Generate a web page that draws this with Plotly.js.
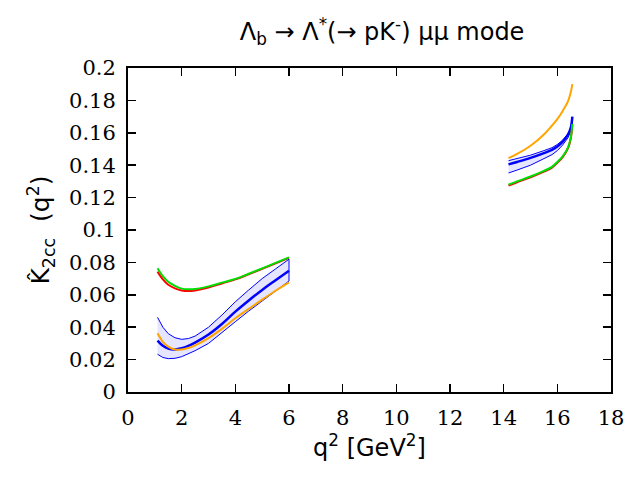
<!DOCTYPE html>
<html>
<head>
<meta charset="utf-8">
<script src="https://cdn.plot.ly/plotly-3.0.1.min.js"></script>
<style>
  body { margin: 0; background: #fff; }
  #plot { width: 640px; height: 480px; }
</style>
</head>
<body>
<div id="plot"></div>
<script>
// low q^2 bin
var qLow = [1.1, 1.3, 1.5, 1.75, 2.0, 2.25, 2.5, 3.0, 3.5, 4.0, 4.5, 5.0, 5.5, 6.0];
var greenLow = [0.0764, 0.0715, 0.0680, 0.0655, 0.0638, 0.0634, 0.0636, 0.0652, 0.0675, 0.0698, 0.0730, 0.0763, 0.0797, 0.0831];
var redLow = [0.0743, 0.0695, 0.0662, 0.0640, 0.0627, 0.0623, 0.0627, 0.0645, 0.0670, 0.0695, 0.0727, 0.0760, 0.0794, 0.0828];
var orangeLow = [0.0362, 0.0310, 0.0280, 0.0262, 0.0262, 0.0272, 0.0288, 0.0333, 0.0390, 0.0455, 0.0513, 0.0570, 0.0625, 0.0677];
var blueLow = [0.0317, 0.0285, 0.0268, 0.0263, 0.0270, 0.0285, 0.0305, 0.0355, 0.0420, 0.0496, 0.0565, 0.0630, 0.0690, 0.0749];
var blueUpLow = [0.0461, 0.0400, 0.0360, 0.0335, 0.0325, 0.0330, 0.0345, 0.0400, 0.0475, 0.0557, 0.0630, 0.0700, 0.0760, 0.0820];
var blueDnLow = [0.0233, 0.0213, 0.0206, 0.0208, 0.0218, 0.0235, 0.0255, 0.0300, 0.0365, 0.0434, 0.0500, 0.0565, 0.0625, 0.0685];

// high q^2 bin
var qHigh = [14.18, 14.5, 15.0, 15.5, 15.8, 16.0, 16.2, 16.4, 16.5, 16.56];
var orangeHigh = [0.1444, 0.1470, 0.1520, 0.1590, 0.1645, 0.1685, 0.1735, 0.1795, 0.1850, 0.1900];
var greenHigh = [0.1280, 0.1300, 0.1330, 0.1365, 0.1390, 0.1420, 0.1455, 0.1510, 0.1570, 0.1655];
var redHigh = [0.1275, 0.1295, 0.1325, 0.1360, 0.1385, 0.1415, 0.1450, 0.1505, 0.1565, 0.1650];
var blueHigh = [0.1405, 0.1420, 0.1445, 0.1475, 0.1495, 0.1515, 0.1545, 0.1590, 0.1630, 0.1700];
var blueUpHigh = [0.1428, 0.1440, 0.1462, 0.1490, 0.1508, 0.1528, 0.1555, 0.1595, 0.1625, 0.1660];
var blueDnHigh = [0.1352, 0.1370, 0.1400, 0.1440, 0.1465, 0.1490, 0.1525, 0.1570, 0.1610, 0.1650];

function band(q, up, dn) {
  return {
    x: q.concat(q.slice().reverse()),
    y: up.concat(dn.slice().reverse()),
    mode: "lines",
    fill: "toself",
    fillcolor: "rgba(40,40,255,0.12)",
    line: { color: "#0000ff", width: 1 },
    hoverinfo: "skip"
  };
}

function curve(q, y, color, width) {
  return { x: q, y: y, mode: "lines", line: { color: color, width: width, shape: "spline" } };
}

var data = [
  band(qLow, blueUpLow, blueDnLow),
  band(qHigh, blueUpHigh, blueDnHigh),
  curve(qLow, blueLow, "#0000ff", 2.5),
  curve(qHigh, blueHigh, "#0000ff", 2.5),
  curve(qLow, orangeLow, "#ffa500", 2),
  curve(qHigh, orangeHigh, "#ffa500", 2),
  curve(qLow, redLow, "#ff0000", 2),
  curve(qHigh, redHigh, "#ff0000", 2),
  curve(qLow, greenLow, "#00dd00", 2),
  curve(qHigh, greenHigh, "#00dd00", 2)
];

var titleFont = { family: "DejaVu Sans", size: 24, color: "#000" };

function axisBase() {
  return {
    showline: true,
    linecolor: "#000",
    linewidth: 2,
    mirror: "ticks",
    ticks: "inside",
    ticklen: 8,
    tickwidth: 1.5,
    tickcolor: "#000",
    showgrid: false,
    zeroline: false,
    ticklabelstandoff: 6,
    tickfont: { family: "DejaVu Serif", size: 21, color: "#000" }
  };
}

var layout = {
  width: 640,
  height: 480,
  margin: { l: 128, r: 29, t: 68, b: 88 },
  paper_bgcolor: "#fff",
  plot_bgcolor: "#fff",
  showlegend: false,
  // page-wide serif so the tick labels pick it up
  font: { family: "DejaVu Serif", size: 21, color: "#000" },
  title: {
    text: "Λ<sub>b</sub> → Λ<sup>*</sup>(→ pK<sup>-</sup>) μμ mode",
    font: titleFont,
    x: 0.597,
    xanchor: "center",
    y: 0.935,
    yanchor: "middle"
  },
  xaxis: Object.assign(axisBase(), {
    range: [0, 18],
    dtick: 2,
    title: { text: "q<sup>2</sup> [GeV<sup>2</sup>]", font: titleFont, standoff: 8 }
  }),
  yaxis: Object.assign(axisBase(), {
    range: [0, 0.2],
    dtick: 0.02,
    title: { text: "K\u0302<sub>2cc</sub>  (q<sup>2</sup>)", font: { family: "DejaVu Sans", size: 25, color: "#000" }, standoff: 12 }
  })
};

Plotly.newPlot("plot", data, layout, { displayModeBar: false, staticPlot: true });
</script>
</body>
</html>
